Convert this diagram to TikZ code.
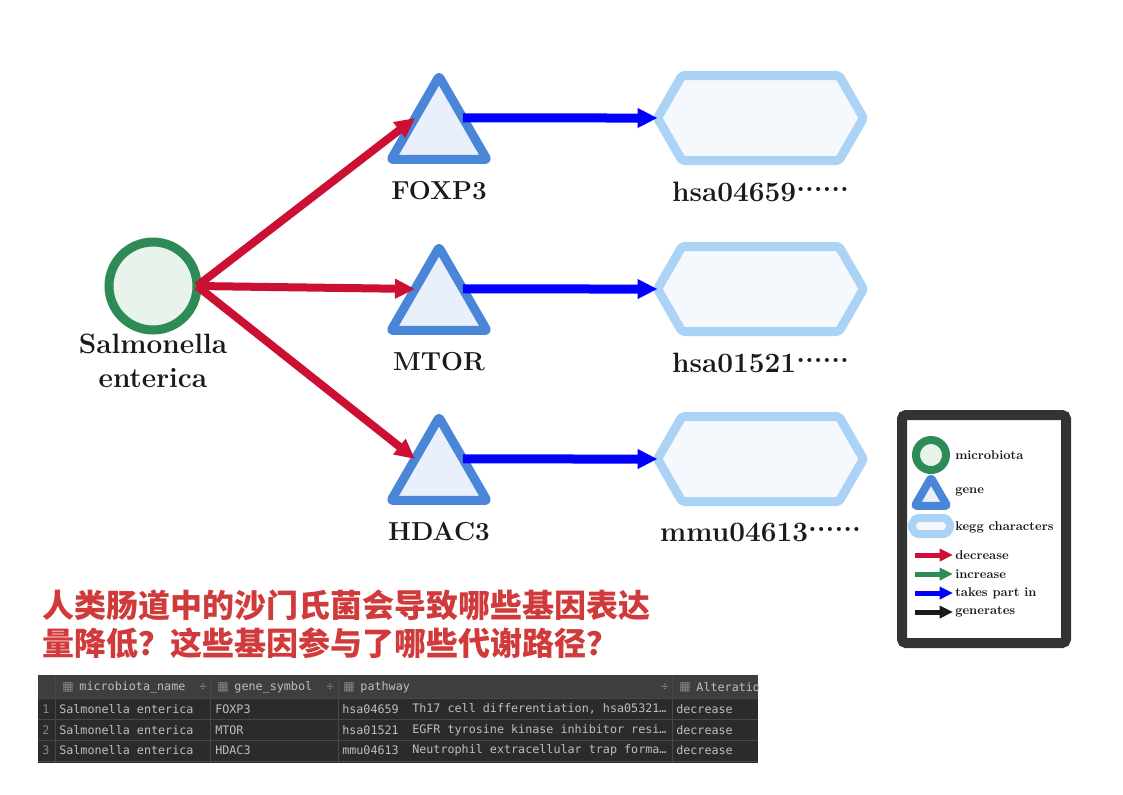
\documentclass[tikz,border=0pt]{standalone}
\usepackage{fontspec}
\newfontfamily\cjk{Noto Sans CJK SC}
\newfontfamily\tablefont{DejaVu Sans Mono}
\newfontfamily\iconfont{DejaVu Sans}
\usetikzlibrary{arrows.meta,positioning,shapes.geometric,shapes.symbols}

\definecolor{microEdge}{RGB}{46,139,87}
\definecolor{microFill}{RGB}{232,243,236}
\definecolor{geneEdge}{RGB}{74,134,216}
\definecolor{geneFill}{RGB}{234,240,251}
\definecolor{keggEdge}{RGB}{170,211,245}
\definecolor{keggFill}{RGB}{245,249,253}
\definecolor{decRed}{RGB}{204,16,51}
\definecolor{incGreen}{RGB}{46,139,87}
\definecolor{partBlue}{RGB}{0,0,255}
\definecolor{genBlack}{RGB}{26,26,26}
\definecolor{frameGrey}{RGB}{51,51,51}
\definecolor{qRed}{RGB}{208,58,58}
\definecolor{tableBg}{RGB}{43,43,43}
\definecolor{tableHead}{RGB}{60,62,64}
\definecolor{tableLine}{RGB}{72,72,72}
\definecolor{tableText}{RGB}{188,190,196}
\definecolor{tableDim}{RGB}{135,135,135}

\newcommand{\morepaths}{\raisebox{0.37em}{......}}

\begin{document}
\begin{tikzpicture}[x=0.75pt, y=-0.75pt, node distance=15pt,
    every node/.style={font=\fontsize{21}{25.5}\selectfont\bfseries, text=genBlack},
    microbe/.style={circle, draw=microEdge, fill=microFill, line width=6.75pt, minimum size=66pt, inner sep=0pt, outer sep=0pt},
    gene/.style={regular polygon, regular polygon sides=3, draw=geneEdge, fill=geneFill, line width=6.75pt, line join=round, rounded corners=1.5pt, minimum size=83pt, inner sep=0pt, outer sep=0pt},
    kegg/.style={signal, signal to=west and east, signal pointer angle=120, draw=keggEdge, fill=keggFill, line width=6.75pt, line join=round, rounded corners=1.5pt, minimum width=154.5pt, minimum height=63.75pt, inner sep=0pt, outer sep=0pt},
    namelab/.style={inner sep=0pt, align=center},
    genelab/.style={namelab, font=\fontsize{19.5}{24}\selectfont\bfseries},
    decrease/.style={draw=decRed, line width=6pt, -{Triangle[length=15pt,width=14pt]}},
    takespart/.style={draw=partBlue, line width=6.75pt, -{Triangle[length=15pt,width=14pt]}},
    legendtext/.style={font=\fontsize{9.5}{11}\selectfont\bfseries, anchor=west, inner sep=1.5pt},
    legarrow/.style={line width=3.75pt, -{Triangle[length=10pt,width=9pt]}},
    tabletext/.style={font=\tablefont\fontsize{8.8}{10}\selectfont, text=tableText, anchor=west, inner sep=0pt},
    tableicon/.style={font=\iconfont\fontsize{9}{10}\selectfont, text=tableDim, anchor=west, inner sep=0pt}]
    \useasboundingbox (0,0) rectangle (1123,794);

    % microbe
    \node[microbe] (salmonella) at (153,286) {};
    \node[namelab, below=3pt of salmonella] (salmonellalab) {Salmonella\\enterica};

    % genes
    \node[gene] (foxp3) at (439,131.8) {};
    \node[gene] (mtor) at (439,302.8) {};
    \node[gene] (hdac3) at (439,472.8) {};
    \node[genelab, below=16.5pt of foxp3] (foxp3lab) {FOXP3};
    \node[genelab, below=16.5pt of mtor] (mtorlab) {MTOR};
    \node[genelab, below=16.5pt of hdac3] (hdac3lab) {HDAC3};

    % kegg pathways
    \node[kegg] (hsa04659) at (760.5,118) {};
    \node[kegg] (hsa01521) at (760.5,289) {};
    \node[kegg] (mmu04613) at (760.5,459) {};
    \node[namelab, below=16pt of hsa04659] (hsa04659lab) {hsa04659\morepaths};
    \node[namelab, below=16pt of hsa01521] (hsa01521lab) {hsa01521\morepaths};
    \node[namelab, below=16pt of mmu04613] (mmu04613lab) {mmu04613\morepaths};

    \draw[decrease] (salmonella.east) -- (foxp3.side 1);
    \draw[decrease] (salmonella.east) -- (mtor.side 1);
    \draw[decrease] (salmonella.east) -- (hdac3.side 1);
    \draw[takespart] (foxp3.side 3) -- (hsa04659.west);
    \draw[takespart] (mtor.side 3) -- (hsa01521.west);
    \draw[takespart] (hdac3.side 3) -- (mmu04613.west);

    % legend
    \node[draw=frameGrey, line width=7.5pt, rounded corners=3pt, fill=white, minimum width=123pt, minimum height=171pt] (legend) at (984,529) {};
    \node[microbe, minimum size=22.5pt, line width=6pt] (lgmicro) at (931,455) {};
    \node[gene, minimum size=28pt, line width=6pt] (lggene) at (931,496.5) {};
    \node[kegg, minimum width=30pt, minimum height=12pt, line width=6pt] (lgkegg) at (931,526) {};
    \node[legendtext] (lgmicrolab) at (953,455) {microbiota};
    \node[legendtext] (lggenelab) at (953,492) {gene};
    \node[legendtext] (lgkegglab) at (953,527) {kegg characters};
    \foreach \y/\col/\txt/\nm in {555/decRed/decrease/lgdec, 574/incGreen/increase/lginc, 593/partBlue/takes part in/lgpart, 612/genBlack/generates/lggen} {
        \coordinate (\nm-s) at (915,\y);
        \node[legendtext] (\nm) at (953,\y) {\txt};
        \draw[legarrow, draw=\col] (\nm-s) -- (\nm.west);
    }

    % question
    \node[anchor=north west, align=left, inner sep=0pt, text=qRed, font=\cjk\fontsize{24}{28.5}\selectfont\bfseries] (question) at (42,590) {人类肠道中的沙门氏菌会导致哪些基因表达\\量降低？这些基因参与了哪些代谢路径？};

    % query result table
    \begin{scope}
        \clip (38,675) rectangle (758,763);
        \fill[tableBg] (38,675) rectangle (758,763);
        \fill[tableHead] (38,675) rectangle (758,698);
        \foreach \y in {698,719,740,761} \draw[tableLine, line width=0.75pt] (38,\y) -- (758,\y);
        \foreach \x in {55,210,338,672} \draw[tableLine, line width=0.75pt] (\x,675) -- (\x,763);
        \foreach \x/\txt in {62/microbiota\_name, 217/gene\_symbol, 343/pathway, 679/Alteration} {
            \node[tableicon] (icon\x) at (\x,687) {▦};
            \node[tabletext, right=4pt of icon\x] (head\x) {\txt};
        }
        \foreach \x in {199,326,661} \node[tabletext, text=tableDim] (sort\x) at (\x,687) {÷};
        \foreach \y/\n/\g/\p/\d in {709/1/FOXP3/hsa04659/{Th17 cell differentiation, hsa05321…}, 730/2/MTOR/hsa01521/{EGFR tyrosine kinase inhibitor resi…}, 750/3/HDAC3/mmu04613/{Neutrophil extracellular trap forma…}} {
            \node[tabletext, text=tableDim] (num\n) at (42,\y) {\n};
            \node[tabletext] (name\n) at (59,\y) {Salmonella enterica};
            \node[tabletext] (gene\n) at (215,\y) {\g};
            \node[tabletext] (path\n) at (342,\y) {\p};
            \node[tabletext] (desc\n) at (412,\y) {\d};
            \node[tabletext] (alt\n) at (676,\y) {decrease};
        }
    \end{scope}
\end{tikzpicture}
\end{document}
